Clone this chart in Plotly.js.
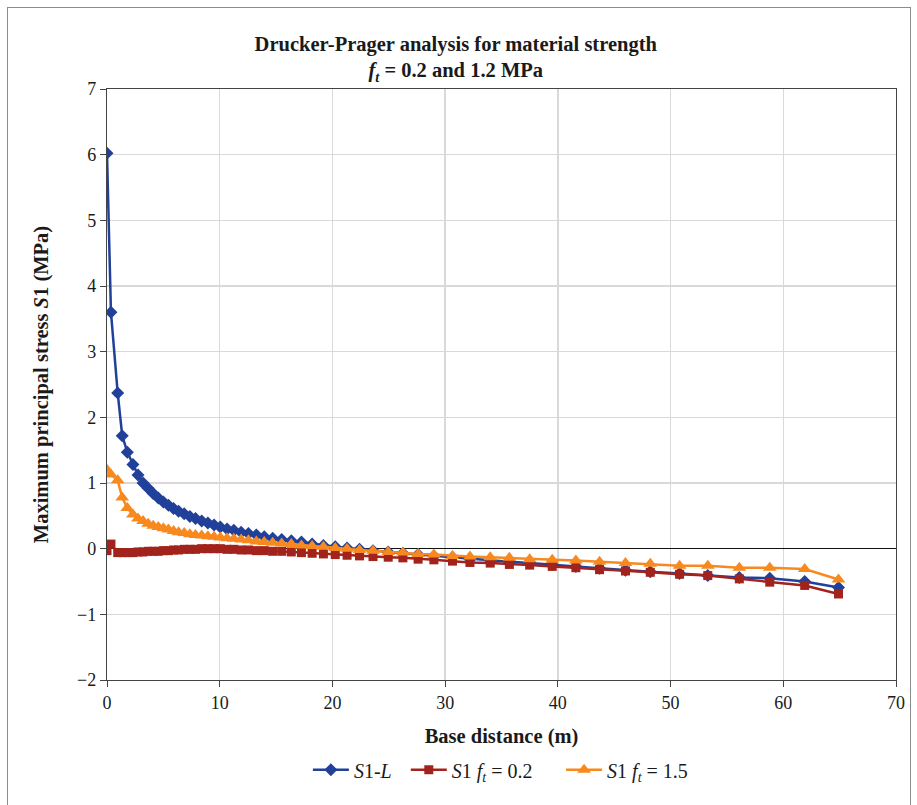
<!DOCTYPE html>
<html>
<head>
<meta charset="utf-8">
<script src="https://cdn.plot.ly/plotly-3.0.1.min.js"></script>
<style>
  body { margin: 0; padding: 0; background: #fff; }
  #wrap { position: relative; width: 917px; height: 805px; }
  #chart { width: 917px; height: 805px; }
  #frame { position: absolute; left: 7px; top: 7px; width: 902px; height: 820px; border: 1px solid #8c8c8c; pointer-events: none; }
</style>
</head>
<body>
<div id="wrap"><div id="chart"></div><div id="frame"></div></div>
<script>
// Base distance (m), shared by all series
const baseDistance = [0, 0.35, 0.95, 1.35, 1.8, 2.3, 2.75, 3.2, 3.65, 4.1, 4.55, 5.0, 5.45, 5.9, 6.35, 6.85, 7.35, 7.85, 8.4, 8.95, 9.5, 10.05, 10.65, 11.25, 11.9, 12.55, 13.25, 13.95, 14.7, 15.5, 16.35, 17.25, 18.2, 19.2, 20.25, 21.3, 22.4, 23.6, 24.95, 26.25, 27.6, 29.0, 30.65, 32.2, 34.0, 35.7, 37.5, 39.5, 41.6, 43.7, 46.0, 48.2, 50.8, 53.3, 56.1, 58.8, 61.9, 64.9];

// S1-L
const s1L = [6.02, 3.60, 2.37, 1.72, 1.47, 1.28, 1.12, 1.00, 0.92, 0.84, 0.77, 0.71, 0.66, 0.61, 0.57, 0.53, 0.49, 0.46, 0.42, 0.39, 0.36, 0.33, 0.30, 0.28, 0.25, 0.23, 0.21, 0.18, 0.16, 0.14, 0.12, 0.10, 0.07, 0.05, 0.03, 0.01, -0.01, -0.03, -0.05, -0.07, -0.09, -0.11, -0.13, -0.16, -0.18, -0.20, -0.22, -0.24, -0.27, -0.30, -0.33, -0.35, -0.38, -0.41, -0.44, -0.45, -0.50, -0.59];

// S1 ft = 0.2
const s1ft02 = [-0.03, 0.07, -0.06, -0.06, -0.06, -0.06, -0.05, -0.05, -0.04, -0.04, -0.04, -0.03, -0.03, -0.02, -0.02, -0.01, -0.01, -0.01, 0.00, 0.00, 0.00, 0.00, -0.01, -0.01, -0.02, -0.02, -0.03, -0.03, -0.04, -0.04, -0.05, -0.06, -0.07, -0.08, -0.09, -0.10, -0.11, -0.12, -0.13, -0.14, -0.16, -0.17, -0.19, -0.21, -0.22, -0.24, -0.25, -0.27, -0.29, -0.32, -0.34, -0.36, -0.39, -0.41, -0.46, -0.51, -0.56, -0.69];

// S1 ft = 1.5
const s1ft15 = [1.20, 1.13, 1.04, 0.78, 0.62, 0.52, 0.46, 0.42, 0.38, 0.35, 0.33, 0.31, 0.29, 0.27, 0.25, 0.24, 0.22, 0.21, 0.20, 0.19, 0.18, 0.17, 0.16, 0.15, 0.14, 0.13, 0.11, 0.10, 0.09, 0.08, 0.07, 0.05, 0.04, 0.03, 0.01, 0.00, -0.02, -0.03, -0.05, -0.06, -0.08, -0.09, -0.11, -0.12, -0.13, -0.14, -0.16, -0.17, -0.18, -0.20, -0.22, -0.23, -0.26, -0.26, -0.29, -0.29, -0.31, -0.47];

const seriesNames = ['<i>S</i>1-<i>L</i>', '<i>S</i>1 <i>f</i><sub><i>t</i></sub> = 0.2', '<i>S</i>1 <i>f</i><sub><i>t</i></sub> = 1.5'];
const xTicks = [0, 10, 20, 30, 40, 50, 60, 70];
const yTicks = [-2, -1, 0, 1, 2, 3, 4, 5, 6, 7];

const FONT = 'Liberation Serif, DejaVu Serif, serif';

const traces = [
  { x: baseDistance, y: s1L, name: seriesNames[0], type: 'scatter', mode: 'lines+markers', legend: 'legend',
    line: { color: '#21409A', width: 2.5 },
    marker: { symbol: 'diamond', size: 10, color: '#21409A' } },
  { x: baseDistance, y: s1ft02, name: seriesNames[1], type: 'scatter', mode: 'lines+markers', legend: 'legend2',
    line: { color: '#A2231C', width: 2.5 },
    marker: { symbol: 'square', size: 9, color: '#A2231C' } },
  { x: baseDistance, y: s1ft15, name: seriesNames[2], type: 'scatter', mode: 'lines+markers', legend: 'legend3',
    line: { color: '#F7891F', width: 2.5 },
    marker: { symbol: 'triangle-up', size: 12, color: '#F7891F' } }
];

const legendBase = {
  orientation: 'h', xanchor: 'left', y: -0.152, yanchor: 'middle',
  font: { family: FONT, size: 20, color: '#1a1a1a' },
  bgcolor: 'rgba(0,0,0,0)', itemwidth: 36
};

const layout = {
  width: 917, height: 805,
  paper_bgcolor: '#ffffff', plot_bgcolor: '#ffffff',
  margin: { l: 107, r: 21, t: 89, b: 125 },
  font: { family: FONT, size: 18, color: '#1a1a1a' },
  title: {
    text: '<b>Drucker-Prager analysis for material strength</b><br><b><i>f</i><sub><i>t</i></sub> = 0.2 and 1.2 MPa</b>',
    font: { family: FONT, size: 20.5, color: '#1a1a1a' },
    x: 0.497, xanchor: 'center', xref: 'container',
    y: 0.937, yanchor: 'top', yref: 'container'
  },
  xaxis: {
    range: [0, 70], tickvals: xTicks, ticktext: xTicks.map(String),
    showgrid: true, gridcolor: '#d9d9d9', gridwidth: 1.5,
    zeroline: false, showline: true, linecolor: '#444', linewidth: 1.2, mirror: true,
    ticks: 'outside', ticklen: 6, tickcolor: '#444',
    tickfont: { family: FONT, size: 18, color: '#1a1a1a' },
    title: { text: '<b>Base distance (m)</b>', font: { family: FONT, size: 20.5, color: '#1a1a1a' }, standoff: 16 }
  },
  yaxis: {
    range: [-2, 7], tickvals: yTicks, ticktext: yTicks.map(v => v < 0 ? '\u2212' + Math.abs(v) : String(v)),
    showgrid: true, gridcolor: '#d9d9d9', gridwidth: 1.5,
    zeroline: true, zerolinecolor: '#111', zerolinewidth: 1.5,
    showline: true, linecolor: '#444', linewidth: 1.2, mirror: true,
    ticks: 'outside', ticklen: 6, tickcolor: '#444',
    tickfont: { family: FONT, size: 18, color: '#1a1a1a' },
    title: { text: '<b>Maximum principal stress <i>S</i>1 (MPa)</b>', font: { family: FONT, size: 20.5, color: '#1a1a1a' }, standoff: 22 }
  },
  showlegend: true,
  legend: Object.assign({}, legendBase, { x: 0.2546 }),
  legend2: Object.assign({}, legendBase, { x: 0.3787 }),
  legend3: Object.assign({}, legendBase, { x: 0.5755 })
};

Plotly.newPlot('chart', traces, layout, { displayModeBar: false, staticPlot: true });
</script>
</body>
</html>
